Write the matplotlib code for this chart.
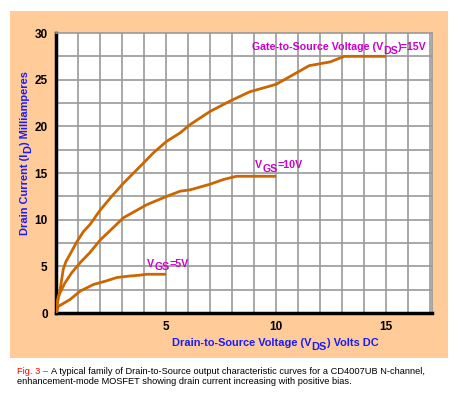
import matplotlib
matplotlib.use("Agg")
import matplotlib.pyplot as plt
from matplotlib.patches import Rectangle
from matplotlib.transforms import IdentityTransform

# Data (Vds in volts, Id in mA)
vds_15 = [0.0, 0.05, 0.18, 0.33, 0.45, 0.64, 0.94, 1.24, 1.55, 2.0, 2.53, 3.06, 3.82, 4.42, 5.03, 5.64,
          6.1, 7.0, 7.9, 8.8, 9.7, 10.0, 10.6, 11.5, 12.45, 13.1, 15.0]
id_15 = [0.0, 1.0, 2.4, 4.7, 5.5, 6.3, 7.6, 8.7, 9.5, 11.0, 12.5, 13.9, 15.7, 17.15, 18.4, 19.3,
         20.2, 21.6, 22.7, 23.7, 24.3, 24.5, 25.3, 26.5, 26.9, 27.5, 27.5]
vds_10 = [0.0, 0.1, 0.4, 0.71, 1.1, 1.55, 2.0, 2.6, 3.06, 4.12, 5.03, 5.64, 6.1, 7.0, 7.6, 8.2, 10.0]
id_10 = [0.0, 1.75, 3.2, 4.3, 5.4, 6.5, 7.8, 9.15, 10.2, 11.6, 12.5, 13.05, 13.2, 13.8, 14.3, 14.65, 14.65]
vds_5 = [0.0, 0.1, 0.64, 1.1, 1.7, 2.3, 2.76, 3.3, 3.8, 4.1, 5.0]
id_5 = [0.0, 0.7, 1.45, 2.35, 3.05, 3.45, 3.8, 3.95, 4.05, 4.15, 4.15]

x_ticks = [5, 10, 15]
y_ticks = [0, 5, 10, 15, 20, 25, 30]

label_15 = [("Gate-to-Source Voltage (V", False), ("DS", True), (")=15V", False)]
label_10 = [("V", False), ("GS", True), ("=10V", False)]
label_5 = [("V", False), ("GS", True), ("=5V", False)]
xlabel_parts = [("Drain-to-Source Voltage (V", False), ("DS", True), (") Volts DC", False)]
ylabel_parts = [("Drain Current (I", False), ("D", True), (") Milliamperes", False)]

W, H = 459, 396
fig = plt.figure(figsize=(W / 100, H / 100), dpi=100)
fig.patch.set_facecolor("white")

fig.patches.append(Rectangle((10 / W, 1 - 358 / H), (448 - 10) / W, (358 - 11) / H,
                             transform=fig.transFigure, facecolor="#FFCC99", edgecolor="none", zorder=-5))

ax = fig.add_axes([56 / W, 1 - 313 / H, (432 - 56) / W, (313 - 33) / H])
ax.set_zorder(2)
ax.set_facecolor("white")
ax.set_xlim(0, 17.08)
ax.set_ylim(0, 30)

for v in range(1, 18):
    ax.axvline(v, color="#999999", lw=1.2, zorder=1)
for yv in [2.5 * i for i in range(1, 12)]:
    ax.axhline(yv, color="#999999", lw=1.2, zorder=1)

curve_color = "#CC6600"
for xs, ys in [(vds_15, id_15), (vds_10, id_10), (vds_5, id_5)]:
    ax.plot(xs, ys, color=curve_color, lw=2.0, zorder=3, solid_capstyle="butt")

bold = "Liberation Sans"
ax.set_xticks(x_ticks)
ax.set_yticks(y_ticks)
ax.tick_params(length=0, labelsize=8.5, pad=6)
for lbl in ax.get_xticklabels() + ax.get_yticklabels():
    lbl.set_fontweight("bold")
    lbl.set_family(bold)
ax.spines["left"].set_linewidth(2.5)
ax.spines["bottom"].set_linewidth(2.5)
for s in ("top", "right"):
    ax.spines[s].set_color("#999999")
    ax.spines[s].set_linewidth(1.2)

renderer = fig.canvas.get_renderer()


def rich(x, y, parts, color, size, sub_drop=3.5, rot=0, center=False, gap=0.0):
    """Draw text with full-size lowered subscripts; x, y are display px (baseline-left)."""
    texts = []
    for s, sub in parts:
        t = fig.text(0, 0, s, color=color, fontsize=size, fontweight="bold", family=bold,
                     transform=IdentityTransform(), ha="left", va="baseline",
                     rotation=rot, rotation_mode="anchor", zorder=10)
        texts.append((t, sub))
    widths = []
    for t, sub in texts:
        bb = t.get_window_extent(renderer)
        widths.append(bb.height if rot else bb.width)
    total = sum(widths) + gap * (len(widths) - 1)
    pos = -total / 2 if center else 0
    for (t, sub), w in zip(texts, widths):
        drop = sub_drop if sub else 0
        if rot:
            t.set_position((x + drop, y + pos))
        else:
            t.set_position((x + pos, y - drop))
        pos += w + gap


def data_px(xv, yv):
    return ax.transData.transform((xv, yv))


mag = "#CC00CC"
px = data_px(8.9, 28.15)
rich(px[0], px[1], label_15, mag, 7.7)
px = data_px(9.05, 15.5)
rich(px[0], px[1], label_10, mag, 7.7)
px = data_px(4.15, 4.95)
rich(px[0], px[1], label_5, mag, 7.7)

blue = "#1A1AFF"
rich(275.5, H - 346, xlabel_parts, blue, 7.9, center=True)
rich(28, H - 153, ylabel_parts, blue, 7.9, rot=90, center=True, sub_drop=3.5)

cap_font = "Liberation Sans"
cs = 6.7
t1 = fig.text(17 / W, 1 - 371 / H, "Fig. 3 \u2013 ", color="red", fontsize=cs, family=cap_font,
              ha="left", va="center")
bb = t1.get_window_extent(renderer)
fig.text(bb.x1 / W, 1 - 371 / H,
         "A typical family of Drain-to-Source output characteristic curves for a CD4007UB N-channel,",
         color="black", fontsize=cs, family=cap_font, ha="left", va="center")
fig.text(17 / W, 1 - 382 / H, "enhancement-mode MOSFET showing drain current increasing with positive bias.",
         color="black", fontsize=cs, family=cap_font, ha="left", va="center")

fig.savefig("out.png", dpi=100)
